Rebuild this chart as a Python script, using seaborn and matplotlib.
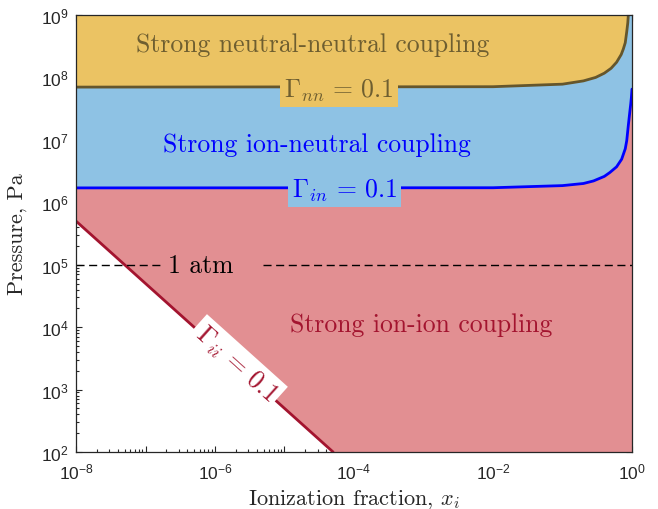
import numpy as np
import matplotlib
matplotlib.use('Agg')
import matplotlib.pyplot as plt
import seaborn as sns
from matplotlib.ticker import LogLocator, NullFormatter

# ---- data ----
x_nn = [1e-8, 1e-2, 0.1, 0.2, 0.3, 0.4, 0.5, 0.6, 0.7, 0.75, 0.8, 0.84, 0.87, 0.885]
p_nn = [7.0e7, 7.1e7, 7.8e7, 8.8e7, 1.0e8, 1.17e8, 1.4e8, 1.75e8, 2.33e8, 2.85e8, 3.6e8, 5.4e8, 7.5e8, 1.0e9]

x_in = [1e-8, 1e-2, 0.1, 0.2, 0.28, 0.4, 0.48, 0.6, 0.71, 0.8, 0.84, 0.885, 0.93, 0.96, 0.98, 1.0]
p_in = [1.7e6, 1.71e6, 1.85e6, 2.0e6, 2.2e6, 2.6e6, 3.0e6, 3.7e6, 4.9e6, 7.2e6, 9.7e6, 1.7e7, 2.8e7, 3.8e7, 4.8e7, 6.5e7]

x_ii = [1e-8, 5e-5]
p_ii = [5e5, 1e2]

p_atm = 1e5
x_atm_left = [1e-8, 10 ** -6.75]
x_atm_right = [10 ** -5.31, 1.0]

x_ticks = [1e-8, 1e-7, 1e-6, 1e-5, 1e-4, 1e-3, 1e-2, 1e-1, 1e0]
y_ticks = [1e2, 1e3, 1e4, 1e5, 1e6, 1e7, 1e8, 1e9]
x_label_exps = [-8, -6, -4, -2, 0]

# ---- style ----
sns.set_theme(style='ticks')
plt.rcParams['font.family'] = ['Liberation Sans', 'DejaVu Sans']
plt.rcParams['mathtext.fontset'] = 'custom'
plt.rcParams['mathtext.rm'] = 'Liberation Sans'
plt.rcParams['mathtext.it'] = 'Liberation Sans:italic'
plt.rcParams['mathtext.bf'] = 'Liberation Sans:bold'
plt.rcParams['axes.unicode_minus'] = True

c_or_fill = '#EBC363'
c_bl_fill = '#8EC2E4'
c_rd_fill = '#E28F92'
c_nn_line = '#65562C'
c_nn_text = '#6E5E30'
c_in_line = '#0000FF'
c_ii_line = '#A3142F'
axis_col = '#262626'

fig = plt.figure(figsize=(6.58, 5.10), dpi=100)
ax = fig.add_axes([76 / 658, 1 - 453 / 510, 556 / 658, 437 / 510])
ax.set_xscale('log')
ax.set_yscale('log')
ax.set_xlim(1e-8, 1.0)
ax.set_ylim(1e2, 1e9)
ax.set_facecolor('white')

# ---- filled regions ----
ax.fill(x_nn + [1e-8], p_nn + [1e9], color=c_or_fill, lw=0, zorder=1)
ax.fill(x_in + [1.0] + x_nn[::-1], p_in + [1e9] + p_nn[::-1], color=c_bl_fill, lw=0, zorder=1)
ax.fill(x_ii + [1.0] + x_in[::-1], p_ii + [1e2] + p_in[::-1], color=c_rd_fill, lw=0, zorder=1)

# ---- boundary curves ----
sns.lineplot(x=x_nn, y=p_nn, ax=ax, sort=False, estimator=None, color=c_nn_line, lw=2.0, zorder=3)
sns.lineplot(x=x_in, y=p_in, ax=ax, sort=False, estimator=None, color=c_in_line, lw=2.0, zorder=3)
sns.lineplot(x=x_ii, y=p_ii, ax=ax, sort=False, estimator=None, color=c_ii_line, lw=2.0, zorder=3)

# 1 atm dashed line
for xs in (x_atm_left, x_atm_right):
    sns.lineplot(x=xs, y=[p_atm, p_atm], ax=ax, sort=False, estimator=None,
                 color='black', lw=1.0, dashes=False, zorder=4)
for ln in ax.lines[-2:]:
    ln.set_dashes((5.8, 3.3))

serif = 'cmr10'
fs = 18.5
ax.text(10 ** -6.2, p_atm, '1 atm', family=serif, fontsize=fs, color='black',
        ha='center', va='center', zorder=5)

ax.text(10 ** -4.6, 10 ** 8.535, 'Strong neutral-neutral coupling', family=serif,
        fontsize=fs, color=c_nn_text, ha='center', va='center', zorder=5)
ax.text(10 ** -4.54, 10 ** 6.93, 'Strong ion-neutral coupling', family=serif,
        fontsize=fs, color=c_in_line, ha='center', va='center', zorder=5)
ax.text(10 ** -3.04, 10 ** 4.05, 'Strong ion-ion coupling', family=serif,
        fontsize=fs, color=c_ii_line, ha='center', va='center', zorder=5)

ax.text(10 ** -4.216, 10 ** 7.80, r'$\Gamma_{nn}\,=\,0.1$', math_fontfamily='cm',
        fontsize=fs, color=c_nn_text, ha='center', va='center', zorder=6,
        bbox=dict(fc=c_or_fill, ec='none', pad=3))
ax.text(10 ** -4.14, 10 ** 6.20, r'$\Gamma_{in}\,=\,0.1$', math_fontfamily='cm',
        fontsize=fs, color=c_in_line, ha='center', va='center', zorder=6,
        bbox=dict(fc=c_bl_fill, ec='none', pad=3))

p1 = ax.transData.transform((x_ii[0], p_ii[0]))
p2 = ax.transData.transform((x_ii[1], p_ii[1]))
ang = np.degrees(np.arctan2(p2[1] - p1[1], p2[0] - p1[0]))
ax.text(10 ** -5.7, 10 ** 3.42, r'$\Gamma_{ii}\,=\,0.1$', math_fontfamily='cm',
        fontsize=fs, color=c_ii_line, ha='center', va='center', zorder=6,
        rotation=ang, rotation_mode='anchor',
        bbox=dict(fc='white', ec='none', pad=3))

# ---- axes, ticks ----
ax.set_xticks(x_ticks)
ax.set_xticklabels([f'$10^{{{int(round(np.log10(v)))}}}$' if int(round(np.log10(v))) in x_label_exps else ''
                    for v in x_ticks])
ax.set_yticks(y_ticks)
ax.set_yticklabels([f'$10^{{{int(round(np.log10(v)))}}}$' for v in y_ticks])
ax.xaxis.set_minor_locator(LogLocator(base=10, subs=np.arange(2, 10), numticks=100))
ax.yaxis.set_minor_locator(LogLocator(base=10, subs=np.arange(2, 10), numticks=100))
ax.xaxis.set_minor_formatter(NullFormatter())
ax.yaxis.set_minor_formatter(NullFormatter())
ax.tick_params(which='both', direction='in', top=True, right=True, colors=axis_col,
               labelsize=12.5, width=0.8)
ax.tick_params(which='major', length=4.5, pad=5)
ax.tick_params(which='minor', length=2.3)
ax.tick_params(axis='x', which='major', pad=7)
for sp in ax.spines.values():
    sp.set_visible(True)
    sp.set_color(axis_col)
    sp.set_linewidth(0.9)
    sp.set_zorder(10)

ax.set_xlabel('Ionization fraction, $x_i$', family=serif, math_fontfamily='cm',
              fontsize=16, color=axis_col, labelpad=4)
ax.set_ylabel('Pressure, Pa', family=serif, fontsize=16, color=axis_col, labelpad=10)

fig.savefig('out.png', dpi=100)
